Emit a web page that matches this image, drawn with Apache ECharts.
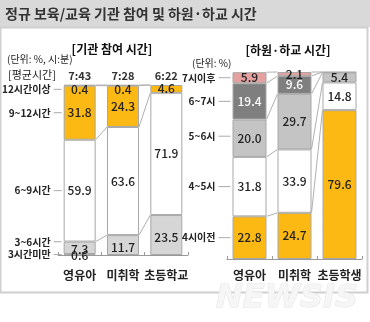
<!DOCTYPE html>
<html><head><meta charset="utf-8">
<script src="https://cdn.jsdelivr.net/npm/echarts@6/dist/echarts.min.js"></script>
<style>html,body{margin:0;padding:0;background:#fff}#c{width:370px;height:322px}</style>
</head><body><div id="c"></div>
<script>
// ---- Data ----
const titleText = '정규 보육/교육 기관 참여 및 하원·하교 시간';
const leftTitle = '[기관 참여 시간]';
const leftUnit = '(단위: %, 시:분)';
const avgLabel = '[평균시간]';
const leftCats = ['영유아', '미취학', '초등학교'];
const avgTime = ['7:43', '7:28', '6:22'];
const leftSegNames = ['3시간미만', '3~6시간', '6~9시간', '9~12시간', '12시간이상'];
const under3 = [0.6, 0, 0];
const h3to6 = [7.3, 11.7, 23.5];
const h6to9 = [59.9, 63.6, 71.9];
const h9to12 = [31.8, 24.3, 4.6];
const over12 = [0.4, 0.4, 0];

const rightTitle = '[하원·하교 시간]';
const rightUnit = '(단위: %)';
const rightCats = ['영유아', '미취학', '초등학생'];
const rightSegNames = ['4시이전', '4~5시', '5~6시', '6~7시', '7시이후'];
const before4 = [22.8, 24.7, 79.6];
const t4to5 = [31.8, 33.9, 14.8];
const t5to6 = [20.0, 29.7, 5.4];
const t6to7 = [19.4, 9.6, 0.2];
const after7 = [5.9, 2.1, 0];

// ---- Styles ----
const ORANGE = '#fdb913';
const LGRAY = '#d6d6d6';
const MGRAY = '#c4c4c4';
const DGRAY = '#7f7f7f';
const PINK = '#e5a0a0';
const BORDER = '#a8a8a8';
const FONT = '"Noto Sans CJK KR", "Noto Sans", sans-serif';
const LBW = 32, RBW = 34;

const leftSets = [under3, h3to6, h6to9, h9to12, over12];
const leftColors = [LGRAY, LGRAY, '#ffffff', ORANGE, '#ffffff'];
const rightSets = [before4, t4to5, t5to6, t6to7, after7];
const rightColors = [ORANGE, '#ffffff', MGRAY, DGRAY, PINK];
const rightLabelColors = ['#222', '#222', '#222', '#fff', '#222'];

// label offsets for tiny segments (styling)
const leftLabelOffsets = [[0, 1], [0, 2], [0, 0], [0, 0], [0, 4]];

function cum(sets) {
  const out = [];
  let run = sets[0].map(() => 0);
  sets.forEach(s => { run = run.map((r, i) => r + s[i]); out.push(run.slice()); });
  return out;
}
const leftCum = cum(leftSets);
const rightCum = cum(rightSets);

function barSeries(sets, colors, gridIdx, bw, stack, labelColors, offsets) {
  return sets.map((s, k) => ({
    type: 'bar', stack: stack, xAxisIndex: gridIdx * 2, yAxisIndex: gridIdx,
    barWidth: bw, z: 3,
    itemStyle: { color: colors[k], borderColor: BORDER, borderWidth: 1 },
    label: {
      show: true, position: 'inside', fontFamily: FONT, fontSize: 12, fontWeight: 500,
      color: labelColors ? labelColors[k] : '#222',
      offset: offsets ? offsets[k] : [0, 0],
      formatter: p => (p.value >= 0.3 ? p.value.toFixed(1) : '')
    },
    data: s.map(v => ({ value: v, itemStyle: v === 0 ? { borderWidth: 0 } : undefined }))
  }));
}

function connectorSeries(cumArr, gridIdx, bw, levels) {
  const data = [];
  for (let i = 0; i < cumArr[0].length - 1; i++) {
    levels.forEach(k => data.push([i, cumArr[k][i], cumArr[k][i + 1]]));
  }
  return {
    type: 'custom', xAxisIndex: gridIdx * 2, yAxisIndex: gridIdx, z: 2, silent: true,
    renderItem: (params, api) => {
      const i = api.value(0);
      const p1 = api.coord([i, api.value(1)]);
      const p2 = api.coord([i + 1, api.value(2)]);
      return { type: 'line', shape: { x1: p1[0] + bw / 2, y1: p1[1], x2: p2[0] - bw / 2, y2: p2[1] },
        style: { stroke: '#b0b0b0', lineWidth: 1 } };
    },
    data: data
  };
}

function sideLabelSeries(names, cumArr, sets, gridIdx, bw, pxOffsets, textRightGap) {
  const data = names.map((n, k) => [0, cumArr[k][0] - sets[k][0] / 2, k]);
  return {
    type: 'custom', xAxisIndex: gridIdx * 2, yAxisIndex: gridIdx, z: 4, silent: true,
    renderItem: (params, api) => {
      const k = api.value(2);
      const p = api.coord([0, api.value(1)]);
      const y = p[1] + pxOffsets[k];
      const xBar = p[0] - bw / 2 - 2;
      return { type: 'group', children: [
        { type: 'line', shape: { x1: xBar - textRightGap + 3, y1: y, x2: xBar, y2: y }, style: { stroke: '#aaa', lineWidth: 1 } },
        { type: 'text', x: xBar - textRightGap, y: y, style: { text: names[k], align: 'right', verticalAlign: 'middle',
          font: 'bold 10px ' + FONT, fill: '#222' } }
      ] };
    },
    data: data
  };
}

const chart = echarts.init(document.getElementById('c'));
const axisCommon = {
  type: 'category',
  axisLine: { show: true, lineStyle: { color: '#999' } },
  axisTick: { show: true, inside: true, length: 3, lineStyle: { color: '#999' } },
  axisLabel: { interval: 0, fontFamily: FONT, fontSize: 12, fontWeight: 'bold', color: '#222' }
};
chart.setOption({
  animation: false,
  backgroundColor: '#ffffff',
  grid: [
    { left: 58, width: 130, top: 85, height: 170 },
    { left: 227, width: 135, top: 72, height: 187 }
  ],
  xAxis: [
    Object.assign({}, axisCommon, { gridIndex: 0, data: leftCats, axisLabel: Object.assign({}, axisCommon.axisLabel, { margin: 14 }) }),
    { type: 'category', gridIndex: 0, position: 'top', data: avgTime, axisLine: { show: false }, axisTick: { show: false },
      axisLabel: { interval: 0, fontFamily: FONT, fontSize: 11, fontWeight: 'bold', color: '#333', margin: 4 } },
    Object.assign({}, axisCommon, { gridIndex: 1, data: rightCats, axisLabel: Object.assign({}, axisCommon.axisLabel, { margin: 10 }) }),
    { type: 'category', gridIndex: 1, position: 'top', data: rightCats, show: false }
  ],
  yAxis: [
    { type: 'value', gridIndex: 0, min: 0, max: 100, show: false },
    { type: 'value', gridIndex: 1, min: 0, max: 100, show: false }
  ],
  graphic: [
    { type: 'rect', shape: { x: 0, y: 0, width: 370, height: 27 }, style: { fill: '#d9d9d9' }, z: -1 },
    { type: 'rect', shape: { x: 0.5, y: 27.5, width: 367, height: 265 }, style: { fill: '#fff', stroke: '#cfcfcf', lineWidth: 2 }, z: -1 },
    { type: 'text', x: 5, y: 14, style: { text: titleText, font: 'bold 14px ' + FONT, fill: '#333', verticalAlign: 'middle' } },
    { type: 'text', x: 112, y: 49, style: { text: leftTitle, font: 'bold 12px ' + FONT, fill: '#111', align: 'center', verticalAlign: 'middle' } },
    { type: 'text', x: 7, y: 59, style: { text: leftUnit, font: '10px ' + FONT, fill: '#222', verticalAlign: 'middle' } },
    { type: 'text', x: 8, y: 75, style: { text: avgLabel, font: '11px ' + FONT, fill: '#222', verticalAlign: 'middle' } },
    { type: 'text', x: 288, y: 50, style: { text: rightTitle, font: 'bold 12px ' + FONT, fill: '#111', align: 'center', verticalAlign: 'middle' } },
    { type: 'text', x: 192, y: 63, style: { text: rightUnit, font: '10px ' + FONT, fill: '#222', verticalAlign: 'middle' } },
    { type: 'text', x: 287, y: 299, style: { text: 'NEWSIS', font: 'italic bold 32px "DejaVu Sans", sans-serif', fill: '#f6f6f6', stroke: '#e4e4e4', lineWidth: 1, align: 'center', verticalAlign: 'middle' }, z: -1 }
  ],
  series: [].concat(
    connectorSeries(leftCum, 0, LBW, [1, 2, 3, 4]),
    barSeries(leftSets, leftColors, 0, LBW, 'L', null, leftLabelOffsets),
    sideLabelSeries(leftSegNames, leftCum, leftSets, 0, LBW, [0, -6, 0, 0, 4], 11),
    connectorSeries(rightCum, 1, RBW, [0, 1, 2, 3, 4]),
    barSeries(rightSets, rightColors, 1, RBW, 'R', rightLabelColors, null),
    sideLabelSeries(rightSegNames, rightCum, rightSets, 1, RBW, [0, 0, -2, 0, 0], 15)
  )
});
</script></body></html>
